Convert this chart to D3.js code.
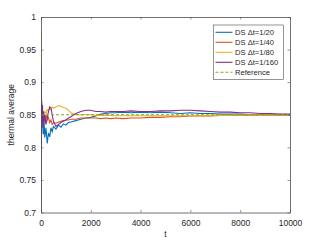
<!DOCTYPE html>
<html><head><meta charset="utf-8">
<script src="https://cdn.jsdelivr.net/npm/d3@7"></script>
<style>body{margin:0;background:#fff}svg{display:block}text{font-family:"Liberation Sans",Arial,sans-serif;fill:#262626}</style>
</head><body><svg id="c" width="321" height="241"></svg>
<script>
const tVals = [0,10,20,30,40,60,80,100,125,150,200,250,300,350,400,450,500,600,700,800,900,1000,1100,1200,1400,1600,1800,2000,2200,2400,2600,2800,3000,3300,3600,4000,4400,4800,5200,5600,6000,6400,6800,7200,7600,8000,8400,8800,9200,9600,10000];
const ds20  = [0.93,0.80,0.88,0.82,0.85,0.83,0.845,0.82,0.84,0.815,0.83,0.806,0.822,0.816,0.83,0.824,0.832,0.828,0.834,0.831,0.836,0.834,0.838,0.839,0.841,0.843,0.845,0.846,0.848,0.851,0.852,0.853,0.853,0.854,0.853,0.854,0.853,0.854,0.853,0.852,0.853,0.852,0.852,0.851,0.851,0.851,0.850,0.850,0.850,0.850,0.850];
const ds40  = [0.80,0.86,0.83,0.855,0.835,0.85,0.84,0.855,0.845,0.838,0.85,0.842,0.846,0.838,0.842,0.835,0.838,0.837,0.839,0.840,0.841,0.842,0.842,0.843,0.843,0.845,0.845,0.845,0.845,0.844,0.845,0.844,0.845,0.844,0.845,0.845,0.846,0.846,0.847,0.847,0.848,0.848,0.848,0.849,0.849,0.849,0.849,0.849,0.849,0.849,0.849];
const ds80  = [0.98,0.93,0.86,0.83,0.85,0.835,0.845,0.84,0.85,0.855,0.852,0.858,0.856,0.86,0.858,0.862,0.86,0.862,0.864,0.863,0.861,0.86,0.857,0.853,0.850,0.850,0.850,0.850,0.849,0.849,0.849,0.849,0.8485,0.8485,0.8485,0.8485,0.8485,0.8485,0.8485,0.8485,0.8485,0.8485,0.849,0.849,0.849,0.8495,0.8495,0.8495,0.8495,0.8495,0.8495];
const ds160 = [0.70,0.92,0.82,0.87,0.83,0.865,0.835,0.855,0.84,0.85,0.835,0.845,0.855,0.862,0.86,0.85,0.84,0.832,0.835,0.838,0.840,0.842,0.845,0.847,0.852,0.855,0.857,0.857,0.855,0.855,0.854,0.855,0.855,0.855,0.856,0.855,0.855,0.856,0.856,0.857,0.857,0.856,0.855,0.854,0.854,0.853,0.853,0.852,0.852,0.851,0.851];
const refVals = tVals.map(() => 0.85);
const seriesNames = ["DS \u0394t=1/20","DS \u0394t=1/40","DS \u0394t=1/80","DS \u0394t=1/160","Reference"];
const colors = ["#0072BD","#D95319","#EDB120","#7E2F8E","#77AC30"];
const xTicks = [0,2000,4000,6000,8000,10000];
const yTicks = [0.7,0.75,0.8,0.85,0.9,0.95,1];

const svg = d3.select("#c");
const L=41,R=290,T=17,B=212.5;
const x = d3.scaleLinear().domain([0,10000]).range([L,R]);
const y = d3.scaleLinear().domain([0.7,1]).range([B,T]);

const g = svg.append("g");
svg.append("clipPath").attr("id","cp").append("rect").attr("x",L).attr("y",T).attr("width",R-L).attr("height",B-T);
const line = d3.line().x((d,i)=>x(tVals[i])).y(d=>y(d));
const all = [ds20,ds40,ds80,ds160,refVals];
all.forEach((s,i)=>{
  g.append("path").attr("d",line(s)).attr("fill","none").attr("stroke",colors[i])
   .attr("stroke-width",1.1).attr("clip-path","url(#cp)")
   .attr("stroke-dasharray", i===4 ? "3,2" : null);
});

const ax = svg.append("g").attr("transform",`translate(0,${B})`).call(d3.axisBottom(x).tickValues(xTicks).tickFormat(d3.format("d")).tickSizeInner(-2.5).tickSizeOuter(0).tickPadding(7));
const ay = svg.append("g").attr("transform",`translate(${L},0)`).call(d3.axisLeft(y).tickValues(yTicks).tickFormat(d=>String(d)).tickSizeInner(-2.5).tickSizeOuter(0).tickPadding(5));
const axt = svg.append("g").attr("transform",`translate(0,${T})`).call(d3.axisTop(x).tickValues(xTicks).tickFormat("").tickSizeInner(-2.5).tickSizeOuter(0));
const ayr = svg.append("g").attr("transform",`translate(${R},0)`).call(d3.axisRight(y).tickValues(yTicks).tickFormat("").tickSizeInner(-2.5).tickSizeOuter(0));
[ax,ay,axt,ayr].forEach(a=>{
  a.select(".domain").attr("stroke","#4d4d4d").attr("stroke-width",0.8);
  a.selectAll(".tick line").attr("stroke","#4d4d4d").attr("stroke-width",0.6);
  a.selectAll("text").attr("font-size",8.5).style("fill","#262626").attr("font-family","Liberation Sans, Arial, sans-serif");
});

svg.append("text").attr("x",(L+R)/2).attr("y",237).attr("text-anchor","middle").attr("font-size",8.5).text("t");
svg.append("text").attr("transform",`translate(14,${(T+B)/2}) rotate(-90)`).attr("text-anchor","middle").attr("font-size",8.5).text("thermal average");

const lg = svg.append("g");
lg.append("rect").attr("x",213.5).attr("y",25).attr("width",70).attr("height",54.5).attr("fill","#fff").attr("stroke","#4d4d4d").attr("stroke-width",0.6);
seriesNames.forEach((n,i)=>{
  const yy = 32.3 + i*10;
  lg.append("line").attr("x1",215.5).attr("x2",232.5).attr("y1",yy).attr("y2",yy).attr("stroke",colors[i]).attr("stroke-width",1.1).attr("stroke-dasharray", i===4 ? "3,2" : null);
  lg.append("text").attr("x",235).attr("y",yy+2.7).attr("font-size",7.6).text(n);
});
</script></body></html>
